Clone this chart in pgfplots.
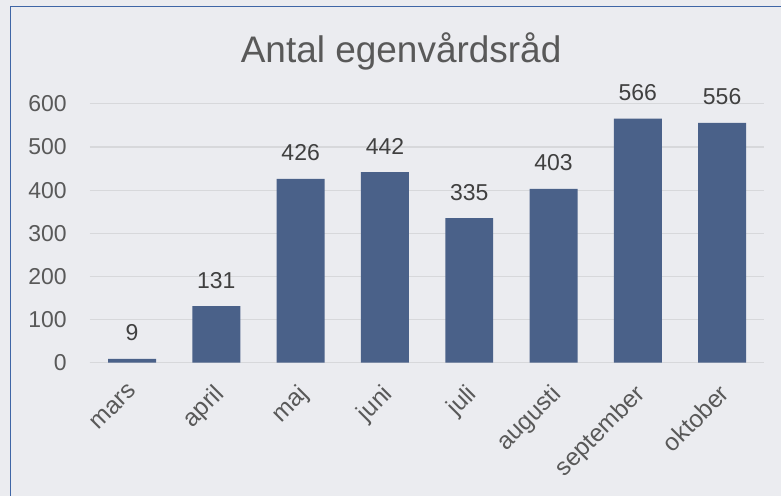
\documentclass[border=0pt]{standalone}
\usepackage{pgfplots}
\pgfplotsset{compat=1.18}
\usepackage{fontspec}
\setmainfont{Liberation Sans}
\definecolor{bg}{HTML}{EBECF0}
\definecolor{barc}{HTML}{4A6189}
\definecolor{gridc}{HTML}{D7D8DB}
\definecolor{txt}{HTML}{595959}
\definecolor{lab}{HTML}{404040}
\definecolor{border}{HTML}{3F66A6}
\begin{document}
\begin{tikzpicture}[x=1bp,y=1bp]
\fill[bg] (0,0) rectangle (782,496);
\draw[border, line width=1.5bp] (10.5,0) -- (10.5,489.5) -- (782,489.5);
\node[text=txt, font=\fontsize{37bp}{40bp}\selectfont, anchor=base, inner sep=0pt] at (401.5,433) {Antal egenvårdsråd};
\begin{axis}[
  at={(90bp,133bp)}, anchor=south west,
  scale only axis, width=675bp, height=259bp,
  xmin=-0.5, xmax=7.5, ymin=0, ymax=600,
  ybar, bar width=48bp,
  /pgf/number format/assume math mode=true,
  axis x line*=bottom, axis y line*=left,
  x axis line style={draw=gridc, line width=1.2bp, -},
  y axis line style={draw=none},
  major tick length=0pt,
  ytick={0,100,...,600},
  ymajorgrids, grid style={gridc, line width=1.2bp},
  xtick=data,
  xticklabels={mars,april,maj,juni,juli,augusti,september,oktober},
  tick label style={text=txt, font=\fontsize{23bp}{26bp}\selectfont},
  yticklabel style={anchor=east, inner sep=0pt, xshift=-23bp},
  xticklabel style={inner sep=0pt, font=\fontsize{24.5bp}{26bp}\selectfont, xshift=-4bp, yshift=-20bp, rotate=45, anchor=north east},
  nodes near coords,
  nodes near coords style={text=lab, font=\fontsize{23bp}{26bp}\selectfont, anchor=base, inner sep=0pt, yshift=18bp},
  clip=false,
]
\addplot[fill=barc, draw=none] coordinates {(0,9) (1,131) (2,426) (3,442) (4,335) (5,403) (6,566) (7,556)};
\end{axis}
\end{tikzpicture}
\end{document}
